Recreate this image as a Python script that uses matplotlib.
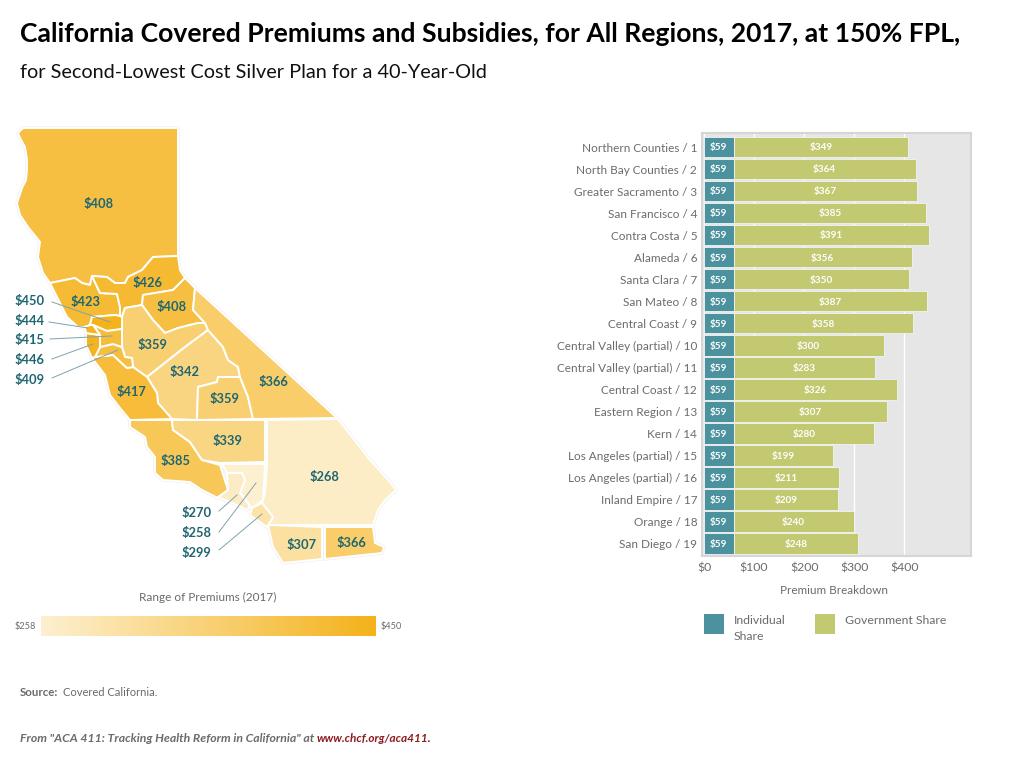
import matplotlib
matplotlib.use('Agg')
import matplotlib.pyplot as plt
import numpy as np
from matplotlib.colors import LinearSegmentedColormap, Normalize
from matplotlib.patches import Polygon, Rectangle

plt.rcParams['font.family'] = ['Lato', 'DejaVu Sans']

# bar chart data
regions = ['Northern Counties / 1', 'North Bay Counties / 2', 'Greater Sacramento / 3',
           'San Francisco / 4', 'Contra Costa / 5', 'Alameda / 6', 'Santa Clara / 7',
           'San Mateo / 8', 'Central Coast / 9', 'Central Valley (partial) / 10',
           'Central Valley (partial) / 11', 'Central Coast / 12', 'Eastern Region / 13',
           'Kern / 14', 'Los Angeles (partial) / 15', 'Los Angeles (partial) / 16',
           'Inland Empire / 17', 'Orange / 18', 'San Diego / 19']
individual_share = [59] * 19
government_share = [349, 364, 367, 385, 391, 356, 350, 387, 358, 300,
                    283, 326, 307, 280, 199, 211, 209, 240, 248]
x_ticks = [0, 100, 200, 300, 400]

# map data: premium, outline in image pixels
map_premiums = [408, 423, 426, 408, 359, 342, 359, 366, 417, 409, 450, 415, 446, 444,
                385, 339, 268, 258, 270, 299, 307, 366]
map_shapes = [
    [(23, 128), (178, 128), (178, 256), (153, 257), (142, 270), (128, 277), (125, 283), (115, 283),
     (107, 277), (92, 276), (90, 285), (82, 283), (75, 278), (50, 283), (43, 273), (38, 257),
     (40, 242), (28, 227), (20, 215), (17, 203), (22, 188), (26, 180), (27, 170), (27, 160),
     (25, 147), (20, 138), (18, 133)],
    [(50, 283), (75, 278), (82, 283), (90, 285), (92, 276), (100, 293), (117, 294), (120, 307),
     (120, 316), (115, 315), (92, 317), (90, 325), (85, 327), (78, 327), (67, 317), (57, 297)],
    [(92, 276), (107, 277), (115, 283), (125, 283), (128, 277), (142, 270), (153, 257), (178, 256),
     (180, 270), (185, 278), (173, 290), (143, 295), (142, 305), (125, 308), (122, 317), (120, 316),
     (120, 307), (117, 294), (100, 293)],
    [(143, 295), (173, 290), (185, 278), (195, 288), (193, 310), (205, 323), (198, 323), (178, 328),
     (165, 333), (153, 320), (142, 305)],
    [(125, 308), (142, 305), (153, 320), (165, 333), (178, 328), (198, 323), (205, 323), (208, 330),
     (185, 347), (147, 377), (133, 367), (132, 358), (125, 357), (122, 347), (122, 317)],
    [(208, 330), (223, 347), (228, 360), (238, 367), (240, 377), (218, 377), (217, 382), (198, 387),
     (197, 420), (172, 419), (158, 403), (157, 393), (147, 377), (185, 347)],
    [(198, 387), (217, 382), (218, 377), (240, 377), (248, 397), (253, 419), (197, 420)],
    [(195, 288), (337, 418), (253, 419), (248, 397), (240, 377), (238, 367), (228, 360), (223, 347),
     (208, 330), (205, 323), (193, 310)],
    [(92, 358), (95, 357), (113, 355), (127, 368), (133, 367), (147, 377), (157, 393), (158, 403),
     (172, 419), (130, 420), (120, 408), (110, 395), (105, 375)],
    [(100, 347), (113, 344), (122, 347), (125, 357), (132, 358), (133, 367), (127, 368), (113, 355),
     (95, 357)],
    [(92, 317), (115, 315), (120, 316), (122, 317), (122, 329), (107, 331), (93, 325), (90, 325)],
    [(93, 325), (107, 331), (122, 329), (122, 347), (113, 344), (100, 347), (100, 335)],
    [(86, 333), (100, 335), (100, 347), (95, 357), (92, 358), (86, 345)],
    [(85, 327), (90, 325), (93, 325), (100, 335), (86, 333)],
    [(130, 420), (172, 420), (173, 430), (190, 442), (202, 460), (220, 465), (228, 490), (218, 498),
     (202, 490), (190, 482), (163, 480), (155, 473), (155, 457), (147, 447), (145, 437), (130, 427)],
    [(172, 420), (265, 420), (265, 462), (220, 463), (202, 460), (190, 442), (173, 430)],
    [(267, 420), (338, 419), (370, 460), (390, 482), (396, 490), (385, 500), (378, 510), (373, 525),
     (277, 525), (268, 525), (273, 517), (262, 503), (265, 493), (267, 463)],
    [(222, 464), (265, 464), (263, 500), (252, 508), (240, 493), (245, 480), (242, 473), (227, 473)],
    [(227, 473), (242, 473), (245, 480), (240, 493), (250, 506), (247, 510), (237, 505), (218, 497),
     (228, 490)],
    [(252, 508), (262, 503), (273, 517), (267, 527), (250, 515)],
    [(268, 525), (322, 527), (322, 559), (283, 563), (273, 547)],
    [(325, 527), (373, 527), (375, 543), (384, 547), (382, 553), (325, 559)],
]

# labels sitting on the map
map_label_text = ['$408', '$423', '$426', '$408', '$359', '$342', '$359', '$366',
                  '$417', '$339', '$385', '$268', '$307', '$366']
map_label_x = [99, 86, 147, 172, 152, 185, 224, 273, 131, 227, 176, 324, 302, 351]
map_label_y = [203, 301, 282, 306, 344, 371, 398, 381, 391, 440, 460, 476, 544, 542]

# labels with leader lines: text, text x, text y, line start, line end
leader_text = ['$450', '$444', '$415', '$446', '$409', '$270', '$258', '$299']
leader_text_x = [15, 15, 15, 15, 15, 182, 182, 182]
leader_text_y = [300, 320, 339, 359, 379, 512, 532, 552]
leader_start = [(52, 302), (49, 322), (50, 339), (52, 359), (52, 378), (219, 511), (219, 532), (219, 550)]
leader_end = [(110, 322), (88, 328), (112, 336), (93, 344), (118, 350), (237, 495), (256, 483), (262, 514)]

TEAL = '#4B929E'
GREEN = '#C2C971'
GREY = '#6B6B6B'
LABEL_TEAL = '#1E6670'

fig = plt.figure(figsize=(10.24, 7.61), dpi=100)

# whole-figure axes in image pixels, for the map and the loose text
canvas = fig.add_axes([0, 0, 1, 1])
canvas.set_xlim(0, 1024)
canvas.set_ylim(761, 0)
canvas.axis('off')

cmap = LinearSegmentedColormap.from_list('premium', ['#FDF0D0', '#F4B21B'])
norm = Normalize(258, 450)

# title block
canvas.text(20, 34, 'California Covered Premiums and Subsidies, for All Regions, 2017, at 150% FPL,',
            fontsize=19.1, fontweight='bold', color='black', va='center')
canvas.text(20, 73, 'for Second-Lowest Cost Silver Plan for a 40-Year-Old',
            fontsize=14.3, color='#111111', va='center')

# map: faint halo first, then the fills with white borders
for shape in map_shapes:
    canvas.add_patch(Polygon(shape, closed=True, fc='none', ec='#EEF0F3', lw=2.4, joinstyle='round'))
for shape, premium in zip(map_shapes, map_premiums):
    canvas.add_patch(Polygon(shape, closed=True, fc=cmap(norm(premium)), ec='white', lw=1.4, joinstyle='round'))

for label, x, y in zip(map_label_text, map_label_x, map_label_y):
    canvas.text(x, y + 1, label, fontsize=9.3, fontweight='bold', color=LABEL_TEAL, ha='center', va='center')

for label, x, y, start, end in zip(leader_text, leader_text_x, leader_text_y, leader_start, leader_end):
    canvas.text(x, y + 1, label, fontsize=9.3, fontweight='bold', color=LABEL_TEAL, va='center')
    canvas.plot([start[0], end[0]], [start[1], end[1]], color='#7FA3AB', lw=0.7)

# gradient key
canvas.text(208, 597, 'Range of Premiums (2017)', fontsize=8.5, color=GREY, ha='center', va='center')
canvas.imshow(np.linspace(0, 1, 256).reshape(1, -1), cmap=cmap, extent=(41, 376, 636, 616), aspect='auto')
canvas.set_xlim(0, 1024)
canvas.set_ylim(761, 0)
canvas.text(15, 626, '$258', fontsize=6.6, color=GREY, va='center')
canvas.text(381, 626, '$450', fontsize=6.6, color=GREY, va='center')

# bar legend
canvas.add_patch(Rectangle((704, 614), 20, 20, fc=TEAL, ec='none'))
canvas.add_patch(Rectangle((815, 614), 20, 20, fc=GREEN, ec='none'))
canvas.text(734, 620, 'Individual', fontsize=8.8, color=GREY, va='center')
canvas.text(734, 636, 'Share', fontsize=8.8, color=GREY, va='center')
canvas.text(845, 620, 'Government Share', fontsize=8.8, color=GREY, va='center')

# footer
canvas.text(20, 692, 'Source:', fontsize=8.3, fontweight='bold', color=GREY, va='center')
canvas.text(63, 692, 'Covered California.', fontsize=8, color=GREY, va='center')
canvas.text(20, 739, 'From "ACA 411: Tracking Health Reform in California" at', fontsize=8.8,
            fontweight='bold', fontstyle='italic', color=GREY, va='center')
canvas.text(317, 739, 'www.chcf.org/aca411.', fontsize=8.5, fontweight='bold', fontstyle='italic',
            color='#8E1B1F', va='center')

# stacked bars, panel spans x 702-971 and y 133-556 in the image
ax = fig.add_axes([702 / 1024, 1 - 556 / 761, 269 / 1024, 423 / 761])
y_pos = np.arange(len(regions))
ax.barh(y_pos, individual_share, height=0.92, color=TEAL, edgecolor='#F2F4F4', linewidth=0.6, zorder=3)
ax.barh(y_pos, government_share, left=individual_share, height=0.92, color=GREEN,
        edgecolor='#F2F4F4', linewidth=0.6, zorder=3)

for i, (own, gov) in enumerate(zip(individual_share, government_share)):
    ax.text(own / 2, i + 0.03, f'${own}', color='white', fontsize=7.2, fontweight='bold',
            ha='center', va='center', zorder=4)
    ax.text(own + gov / 2, i + 0.03, f'${gov}', color='white', fontsize=7.2, fontweight='bold',
            ha='center', va='center', zorder=4)

ax.set_facecolor('#E6E6E6')
ax.set_xlim(-4, 533)
ax.set_ylim(18.57, -0.65)
ax.set_yticks(y_pos)
ax.set_yticklabels(regions, fontsize=8.5, color=GREY)
ax.set_xticks(x_ticks)
ax.set_xticklabels([f'${v}' for v in x_ticks], fontsize=8.8, color=GREY)
ax.set_xlabel('Premium Breakdown', fontsize=8.4, color=GREY)
ax.xaxis.set_label_coords(0.489, -0.069)
ax.tick_params(axis='y', length=0, pad=3.5)
ax.tick_params(axis='x', length=0, pad=5)
ax.grid(axis='x', color='white', lw=1, zorder=1)
ax.set_axisbelow(True)
for spine in ax.spines.values():
    spine.set_color('#D6D6D6')
    spine.set_linewidth(1.5)

fig.savefig('out.png', dpi=100)
